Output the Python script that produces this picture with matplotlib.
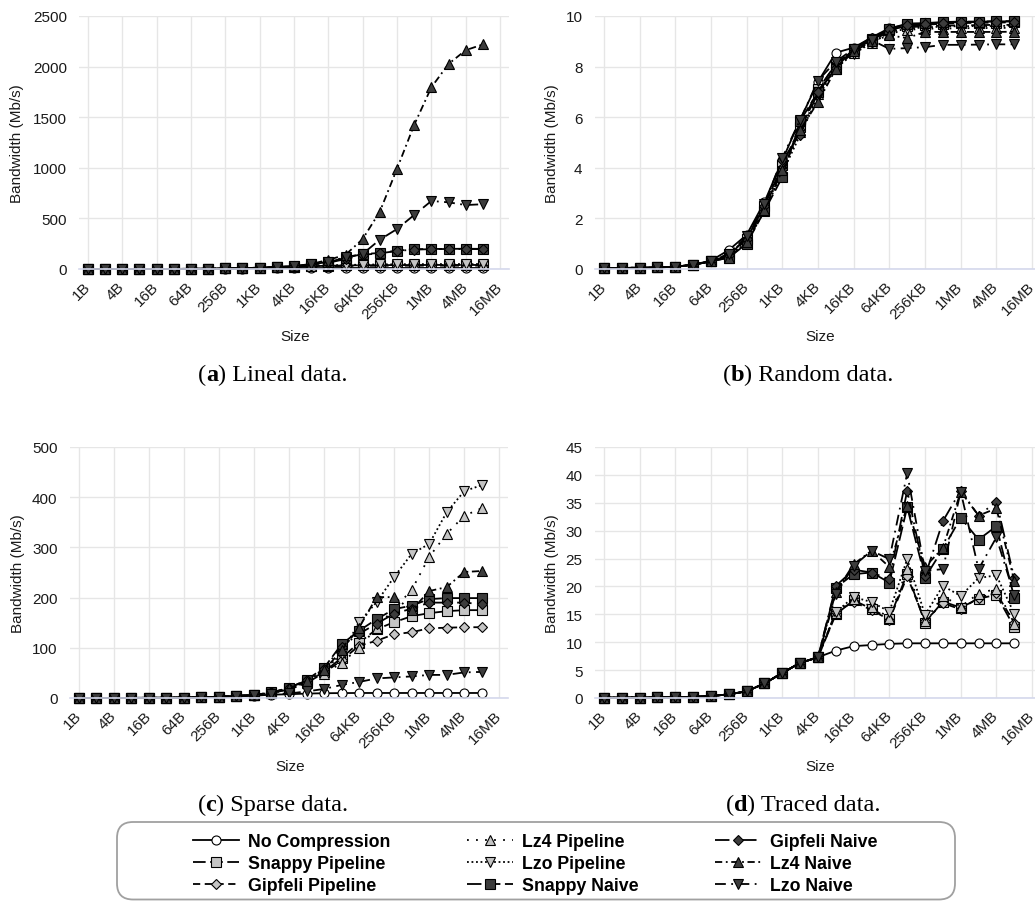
import numpy as np
import matplotlib
matplotlib.use("Agg")
import matplotlib.pyplot as plt
from matplotlib.offsetbox import TextArea, HPacker, AnnotationBbox
from matplotlib.patches import FancyBboxPatch

W, H = 1035, 903

tick_labels = ["1B", "4B", "16B", "64B", "256B", "1KB", "4KB", "16KB",
               "64KB", "256KB", "1MB", "4MB", "16MB"]
names = ["No Compression", "Snappy Pipeline", "Gipfeli Pipeline",
         "Lz4 Pipeline", "Lzo Pipeline", "Snappy Naive",
         "Gipfeli Naive", "Lz4 Naive", "Lzo Naive"]

# (a) lineal data, 1B .. 8MB
lin_none = [0.03, 0.05, 0.1, 0.2, 0.4, 0.7, 1.2, 2, 3, 4.5, 6, 7.5, 8.5, 9.2, 9.6, 9.8, 9.9, 10, 10, 10, 10, 10, 10, 10]
lin_snappy_p = [0.03, 0.05, 0.1, 0.2, 0.4, 0.8, 1.5, 2.8, 5, 8, 12, 17, 22, 28, 32, 35, 37, 38, 39, 39, 40, 40, 40, 40]
lin_gipfeli_p = [0.03, 0.05, 0.1, 0.2, 0.4, 0.8, 1.5, 2.8, 5, 8, 12, 16, 20, 25, 28, 30, 31, 32, 32, 33, 33, 33, 33, 33]
lin_lz4_p = [0.03, 0.05, 0.1, 0.2, 0.4, 0.8, 1.5, 2.8, 5, 8, 12, 17, 23, 30, 35, 38, 40, 42, 43, 44, 44, 45, 45, 45]
lin_lzo_p = [0.03, 0.05, 0.1, 0.2, 0.4, 0.8, 1.5, 2.8, 5, 8, 12, 17, 24, 31, 36, 40, 43, 45, 46, 47, 47, 48, 48, 48]
lin_snappy_n = [0.03, 0.05, 0.1, 0.2, 0.4, 0.8, 1.5, 2.8, 5, 8, 13, 19, 27, 45, 70, 110, 148, 158, 181, 195, 198, 199, 200, 199]
lin_gipfeli_n = [0.03, 0.05, 0.1, 0.2, 0.4, 0.8, 1.5, 2.8, 5, 8, 13, 19, 26, 42, 62, 98, 140, 155, 178, 192, 196, 198, 198, 196]
lin_lz4_n = [0.03, 0.05, 0.1, 0.2, 0.4, 0.8, 1.5, 2.8, 5, 8, 13, 19, 28, 50, 90, 140, 296, 567, 990, 1424, 1795, 2026, 2162, 2219]
lin_lzo_n = [0.03, 0.05, 0.1, 0.2, 0.4, 0.8, 1.5, 2.8, 5, 8, 13, 19, 27, 46, 72, 116, 149, 290, 395, 534, 672, 659, 632, 640]

# (b) random data
rnd_none = [0.03, 0.04, 0.05, 0.06, 0.09, 0.17, 0.33, 0.75, 1.35, 2.65, 4.3, 5.9, 7.4, 8.55, 8.75, 9.15, 9.52, 9.66, 9.7, 9.74, 9.76, 9.77, 9.78, 9.78]
rnd_snappy_p = [0.03, 0.04, 0.05, 0.06, 0.09, 0.17, 0.3, 0.6, 1.2, 2.5, 4.1, 5.6, 7.1, 8.1, 8.65, 9.05, 9.45, 9.6, 9.65, 9.7, 9.72, 9.73, 9.74, 9.75]
rnd_gipfeli_p = [0.03, 0.04, 0.05, 0.06, 0.09, 0.17, 0.3, 0.55, 1.15, 2.4, 4.0, 5.5, 7.0, 8.15, 8.6, 9.0, 9.4, 9.55, 9.6, 9.62, 9.63, 9.64, 9.65, 9.65]
rnd_lz4_p = [0.03, 0.04, 0.05, 0.06, 0.09, 0.17, 0.3, 0.5, 1.1, 2.35, 3.9, 5.4, 6.9, 8.0, 8.55, 8.95, 9.3, 9.45, 9.5, 9.5, 9.52, 9.52, 9.53, 9.53]
rnd_lzo_p = [0.03, 0.04, 0.05, 0.06, 0.09, 0.17, 0.3, 0.5, 1.05, 2.3, 3.8, 5.3, 6.8, 7.95, 8.5, 8.95, 9.35, 9.5, 9.55, 9.58, 9.6, 9.6, 9.6, 9.62]
rnd_snappy_n = [0.03, 0.04, 0.05, 0.06, 0.09, 0.17, 0.3, 0.45, 1.0, 2.3, 3.63, 5.85, 7.0, 7.9, 8.7, 9.1, 9.5, 9.7, 9.72, 9.76, 9.78, 9.78, 9.8, 9.8]
rnd_gipfeli_n = [0.03, 0.04, 0.05, 0.06, 0.09, 0.17, 0.3, 0.55, 1.2, 2.5, 4.3, 5.3, 7.0, 7.95, 8.7, 9.15, 9.5, 9.65, 9.7, 9.74, 9.76, 9.77, 9.78, 9.78]
rnd_lz4_n = [0.03, 0.04, 0.05, 0.06, 0.09, 0.17, 0.3, 0.45, 1.05, 2.35, 3.9, 5.5, 6.6, 7.9, 8.6, 9.0, 9.23, 9.13, 9.37, 9.37, 9.37, 9.37, 9.37, 9.38]
rnd_lzo_n = [0.03, 0.04, 0.05, 0.06, 0.09, 0.17, 0.3, 0.6, 1.3, 2.55, 4.4, 5.9, 7.45, 8.2, 8.7, 9.05, 8.7, 8.73, 8.77, 8.86, 8.86, 8.87, 8.88, 8.88]

# (c) sparse data
spa_none = [0.05, 0.08, 0.1, 0.2, 0.3, 0.5, 0.9, 1.4, 2.2, 3.2, 4.6, 6.6, 7.5, 8.8, 9.5, 9.8, 10, 10, 10, 10, 10, 10, 10, 10]
spa_snappy_p = [0.05, 0.08, 0.1, 0.2, 0.3, 0.5, 0.9, 1.5, 2.5, 4, 6, 10, 18, 32, 52, 80, 110, 137, 151, 163, 169, 173, 175, 175]
spa_gipfeli_p = [0.05, 0.08, 0.1, 0.2, 0.3, 0.5, 0.9, 1.5, 2.5, 4, 6, 10, 17, 30, 50, 75, 104, 114, 127, 131, 139, 140, 141, 141]
spa_lz4_p = [0.05, 0.08, 0.1, 0.2, 0.3, 0.5, 0.9, 1.5, 2.5, 4, 6, 10, 17, 30, 48, 70, 100, 140, 178, 215, 281, 327, 363, 378]
spa_lzo_p = [0.05, 0.08, 0.1, 0.2, 0.3, 0.5, 0.9, 1.5, 2.5, 4, 6, 10, 18, 33, 55, 88, 151, 191, 241, 287, 307, 370, 412, 424]
spa_snappy_n = [0.05, 0.08, 0.1, 0.2, 0.3, 0.5, 0.9, 1.5, 2.5, 4, 6, 11, 20, 36, 60, 107, 134, 157, 177, 184, 197, 199, 199, 199]
spa_gipfeli_n = [0.05, 0.08, 0.1, 0.2, 0.3, 0.5, 0.9, 1.5, 2.5, 4, 6, 11, 20, 35, 58, 102, 128, 148, 168, 178, 190, 190, 190, 187]
spa_lz4_n = [0.05, 0.08, 0.1, 0.2, 0.3, 0.5, 0.9, 1.5, 2.5, 4, 6, 11, 19, 34, 55, 95, 140, 201, 201, 175, 213, 221, 251, 253]
spa_lzo_n = [0.05, 0.08, 0.1, 0.2, 0.3, 0.5, 0.9, 1.5, 2.5, 4, 5.5, 7.5, 9, 13, 18, 26, 32, 39, 41, 43, 46, 46, 51, 52]

# (d) traced data
trc_none = [0.05, 0.06, 0.08, 0.1, 0.14, 0.2, 0.35, 0.65, 1.2, 2.6, 4.5, 6.3, 7.3, 8.5, 9.3, 9.5, 9.7, 9.8, 9.8, 9.8, 9.8, 9.8, 9.8, 9.8]
trc_snappy_p = [0.05, 0.06, 0.08, 0.1, 0.14, 0.2, 0.35, 0.65, 1.2, 2.6, 4.5, 6.3, 7.3, 15.0, 17.5, 16.0, 14.2, 22.3, 13.5, 17.3, 16.2, 17.8, 18.5, 12.7]
trc_gipfeli_p = [0.05, 0.06, 0.08, 0.1, 0.14, 0.2, 0.35, 0.65, 1.2, 2.6, 4.5, 6.3, 7.3, 15.5, 17.2, 15.8, 14.0, 21.8, 13.8, 17.0, 15.9, 18.0, 18.8, 13.5]
trc_lz4_p = [0.05, 0.06, 0.08, 0.1, 0.14, 0.2, 0.35, 0.65, 1.2, 2.6, 4.5, 6.3, 7.3, 15.2, 17.8, 16.4, 14.4, 23.1, 13.8, 18.3, 16.4, 18.7, 19.6, 13.3]
trc_lzo_p = [0.05, 0.06, 0.08, 0.1, 0.14, 0.2, 0.35, 0.65, 1.2, 2.6, 4.5, 6.3, 7.3, 15.4, 18.1, 17.2, 15.5, 24.9, 14.9, 20.1, 18.3, 21.5, 22.0, 15.1]
trc_snappy_n = [0.05, 0.06, 0.08, 0.1, 0.14, 0.2, 0.35, 0.65, 1.2, 2.6, 4.5, 6.3, 7.3, 19.8, 22.2, 22.5, 20.7, 34.2, 21.6, 26.7, 32.3, 28.4, 30.8, 18.0]
trc_gipfeli_n = [0.05, 0.06, 0.08, 0.1, 0.14, 0.2, 0.35, 0.65, 1.2, 2.6, 4.5, 6.3, 7.3, 20.1, 23.0, 22.5, 21.3, 37.2, 21.8, 31.7, 37.2, 32.7, 35.2, 21.5]
trc_lz4_n = [0.05, 0.06, 0.08, 0.1, 0.14, 0.2, 0.35, 0.65, 1.2, 2.6, 4.5, 6.3, 7.3, 19.0, 24.0, 26.4, 23.5, 34.5, 23.5, 26.9, 37.0, 32.7, 34.0, 21.0]
trc_lzo_n = [0.05, 0.06, 0.08, 0.1, 0.14, 0.2, 0.35, 0.65, 1.2, 2.6, 4.5, 6.3, 7.3, 18.6, 23.7, 26.4, 24.9, 40.3, 22.8, 23.1, 37.0, 23.1, 28.8, 18.5]

panels = [
    ("a", " Lineal data.", [lin_none, lin_snappy_p, lin_gipfeli_p, lin_lz4_p, lin_lzo_p,
                           lin_snappy_n, lin_gipfeli_n, lin_lz4_n, lin_lzo_n], 2500, 500),
    ("b", " Random data.", [rnd_none, rnd_snappy_p, rnd_gipfeli_p, rnd_lz4_p, rnd_lzo_p,
                           rnd_snappy_n, rnd_gipfeli_n, rnd_lz4_n, rnd_lzo_n], 10, 2),
    ("c", " Sparse data.", [spa_none, spa_snappy_p, spa_gipfeli_p, spa_lz4_p, spa_lzo_p,
                           spa_snappy_n, spa_gipfeli_n, spa_lz4_n, spa_lzo_n], 500, 100),
    ("d", " Traced data.", [trc_none, trc_snappy_p, trc_gipfeli_p, trc_lz4_p, trc_lzo_p,
                           trc_snappy_n, trc_gipfeli_n, trc_lz4_n, trc_lzo_n], 45, 5),
]

light = "#c4c4c4"
dark = "#3c3c3c"
styles = [
    dict(ls="-", marker="o", mfc="white", ms=6.5),
    dict(ls=(0, (7, 2.5)), marker="s", mfc=light, ms=6.5),
    dict(ls=(0, (4, 2.5)), marker="D", mfc=light, ms=5.5),
    dict(ls=(0, (1, 4)), marker="^", mfc=light, ms=7),
    dict(ls=(0, (1, 1.5)), marker="v", mfc=light, ms=7),
    dict(ls=(0, (8, 2.5)), marker="s", mfc=dark, ms=6.5),
    dict(ls=(0, (8, 3, 1, 3)), marker="D", mfc=dark, ms=5.5),
    dict(ls=(0, (4, 2, 1, 2)), marker="^", mfc=dark, ms=7),
    dict(ls=(0, (6, 3, 1, 3)), marker="v", mfc=dark, ms=7),
]

# axes rectangles in pixels: left, top, right, bottom
rects = [(79.4, 17, 508.6, 270), (595, 17, 1041, 270),
         (70, 448, 508, 699), (595, 448, 1041, 699)]
ylabel_x = [17, 552, 18, 552]
size_pos = [(295, 337), (820, 337), (290, 767), (820, 767)]
caption_pos = [(273, 375), (808, 375), (273, 805), (803, 805)]

sans = "Liberation Sans"
serif = "Liberation Serif"

fig = plt.figure(figsize=(W / 100, H / 100), dpi=100)
x = np.arange(24)

handles = []
for i, (letter, title, data, ymax, ystep) in enumerate(panels):
    l, t, r, b = rects[i]
    ax = fig.add_axes([l / W, 1 - b / H, (r - l) / W, (b - t) / H])
    lines = []
    for vals, st in zip(data, styles):
        ln, = ax.plot(x, vals, color="black", lw=1.3, linestyle=st["ls"],
                      marker=st["marker"], markersize=st["ms"],
                      markerfacecolor=st["mfc"], markeredgecolor="black",
                      markeredgewidth=0.8, clip_on=False)
        lines.append(ln)
    if i == 0:
        handles = lines
    ax.set_xlim(-0.5, 24.5)
    ax.set_ylim(0, ymax)
    ax.set_xticks(np.arange(0, 25, 2))
    ax.set_xticklabels(tick_labels, rotation=45, ha="right", va="center",
                       rotation_mode="anchor", fontsize=11, family=sans, color="#1a1a1a")
    ax.set_yticks(np.arange(0, ymax + ystep / 2, ystep))
    ax.set_yticklabels([str(int(v)) for v in np.arange(0, ymax + ystep / 2, ystep)],
                       fontsize=11, family=sans, color="#1a1a1a")
    ax.tick_params(length=0)
    ax.tick_params(axis="y", pad=9)
    ax.tick_params(axis="x", pad=11)
    ax.grid(True, color="#e6e6e6", lw=1)
    ax.set_axisbelow(True)
    for side in ["top", "right", "left"]:
        ax.spines[side].set_visible(False)
    ax.spines["bottom"].set_color("#d4d8ec")
    ax.spines["bottom"].set_linewidth(1.2)

    cy = (t + b) / 2
    fig.text(ylabel_x[i] / W, 1 - cy / H, "Bandwidth (Mb/s)", rotation=90,
             ha="center", va="center", fontsize=11, family=sans, color="#1a1a1a")
    sx, sy = size_pos[i]
    fig.text(sx / W, 1 - sy / H, "Size", ha="center", va="center",
             fontsize=11, family=sans, color="#1a1a1a")

    parts = [TextArea("(", textprops=dict(family=serif, size=17.5)),
             TextArea(letter, textprops=dict(family=serif, size=17.5, weight="bold")),
             TextArea(")" + title, textprops=dict(family=serif, size=17.5))]
    box = HPacker(children=parts, pad=0, sep=0, align="baseline")
    cx, cyy = caption_pos[i]
    ab = AnnotationBbox(box, (cx, H - cyy), xycoords="figure pixels",
                        box_alignment=(0.5, 0.5), frameon=False, pad=0)
    fig.add_artist(ab)

# legend frame
frame = FancyBboxPatch((1.17, 0.025), 8.38, 0.775,
                       boxstyle="round,pad=0,rounding_size=0.16",
                       transform=fig.dpi_scale_trans, facecolor="white",
                       edgecolor="#a0a0a0", lw=1.3)
fig.add_artist(frame)

fig.legend(handles, names, ncol=3, loc="upper left",
           bbox_to_anchor=(193 / W, 1 - 834 / H), frameon=False,
           borderpad=0, borderaxespad=0, handlelength=2.6, handletextpad=0.5,
           columnspacing=4.3, labelspacing=0.28, numpoints=1,
           prop=dict(family=sans, weight="bold", size=12.8))

fig.savefig("out.png", dpi=100)
